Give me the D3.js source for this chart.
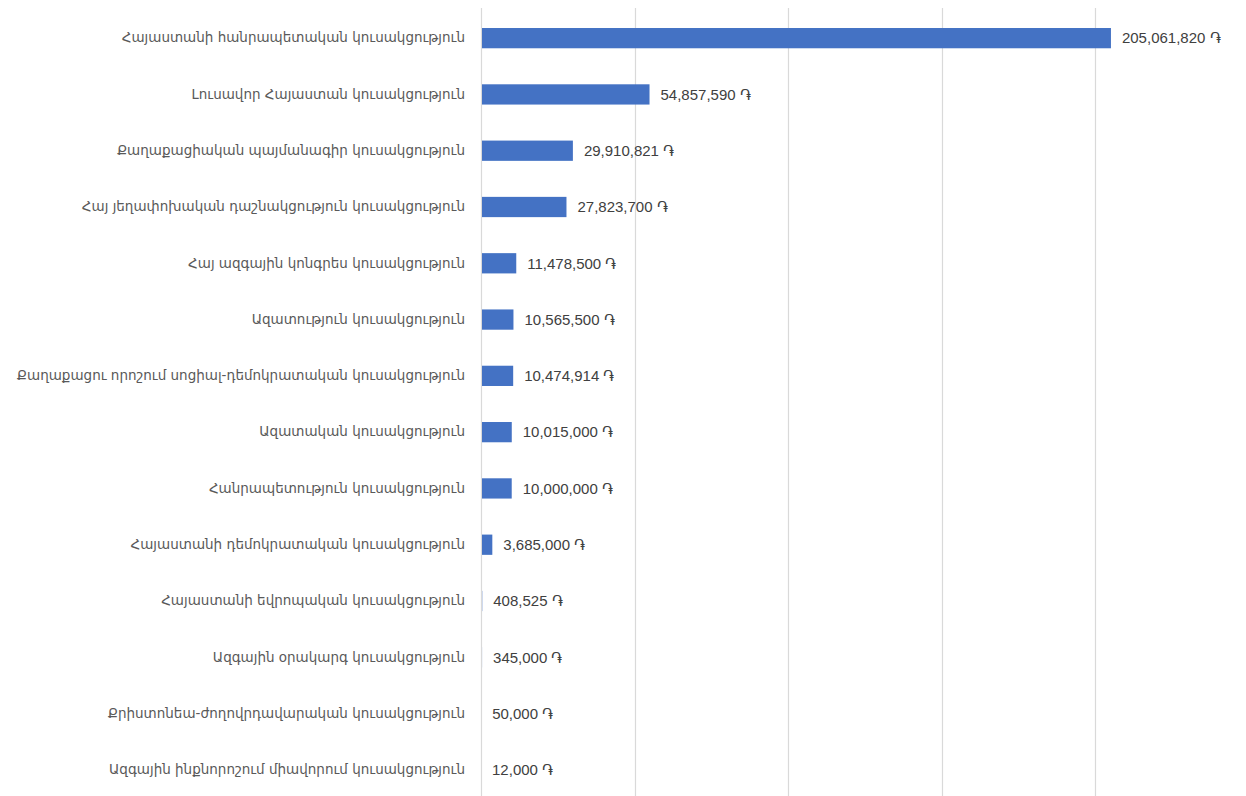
<!DOCTYPE html>
<html>
<head>
<meta charset="utf-8">
<script src="https://cdn.jsdelivr.net/npm/d3@7"></script>
<style>
  body { margin: 0; background: #fff; }
  svg { display: block; }
</style>
</head>
<body>
<svg id="chart"></svg>
<script>
const width = 1246;
const height = 796;

// party names, top to bottom
const parties = [
  "Հայաստանի հանրապետական կուսակցություն",
  "Լուսավոր Հայաստան կուսակցություն",
  "Քաղաքացիական պայմանագիր կուսակցություն",
  "Հայ յեղափոխական դաշնակցություն կուսակցություն",
  "Հայ ազգային կոնգրես կուսակցություն",
  "Ազատություն կուսակցություն",
  "Քաղաքացու որոշում սոցիալ-դեմոկրատական կուսակցություն",
  "Ազատական կուսակցություն",
  "Հանրապետություն կուսակցություն",
  "Հայաստանի դեմոկրատական կուսակցություն",
  "Հայաստանի եվրոպական կուսակցություն",
  "Ազգային օրակարգ կուսակցություն",
  "Քրիստոնեա-ժողովրդավարական կուսակցություն",
  "Ազգային ինքնորոշում միավորում կուսակցություն"
];
const amounts = [
  205061820, 54857590, 29910821, 27823700, 11478500, 10565500,
  10474914, 10015000, 10000000, 3685000, 408525, 345000, 50000, 12000
];
const gridTicks = [0, 50000000, 100000000, 150000000, 200000000];

const data = parties.map((p, i) => ({ name: p, value: amounts[i] }));

const margin = { left: 481, top: 10 };

const svg = d3.select("#chart")
  .attr("width", width)
  .attr("height", height);

const x = d3.scaleLinear()
  .domain([0, 250000000])
  .range([margin.left, 1249]);

const y = d3.scaleBand()
  .domain(parties)
  .range([margin.top, height + 2])
  .paddingInner(0.64)
  .paddingOuter(0.32);

// vertical gridlines
svg.append("g")
  .selectAll("line")
  .data(gridTicks)
  .enter()
  .append("line")
  .attr("x1", (d) => Math.round(x(d)) + 0.5)
  .attr("x2", (d) => Math.round(x(d)) + 0.5)
  .attr("y1", 8)
  .attr("y2", height)
  .attr("stroke", "#d9d9d9")
  .attr("stroke-width", 1.2);

// bars
svg.append("g")
  .selectAll("rect")
  .data(data)
  .enter()
  .append("rect")
  .attr("x", x(0) + 1)
  .attr("y", (d) => y(d.name))
  .attr("width", (d) => Math.max(0, x(d.value) - x(0) - 1))
  .attr("height", y.bandwidth())
  .attr("fill", "#4472c4");

// category labels
const yAxis = d3.axisLeft(y).tickSize(0).tickPadding(16);
svg.append("g")
  .attr("transform", `translate(${margin.left},0)`)
  .call(yAxis)
  .call((g) => g.select(".domain").remove())
  .selectAll("text")
  .attr("font-family", "'DejaVu Sans', 'Noto Sans', sans-serif")
  .attr("font-size", 13.5)
  .attr("fill", "#595959");

// value labels
const fmt = d3.format(",");
svg.append("g")
  .selectAll("text")
  .data(data)
  .enter()
  .append("text")
  .attr("x", (d) => x(d.value) + 11)
  .attr("y", (d) => y(d.name) + y.bandwidth() / 2)
  .attr("dy", "0.35em")
  .attr("font-family", "'Liberation Sans', Arial, sans-serif")
  .attr("font-size", 15)
  .attr("fill", "#404040")
  .text((d) => fmt(d.value) + " ֏");
</script>
</body>
</html>
